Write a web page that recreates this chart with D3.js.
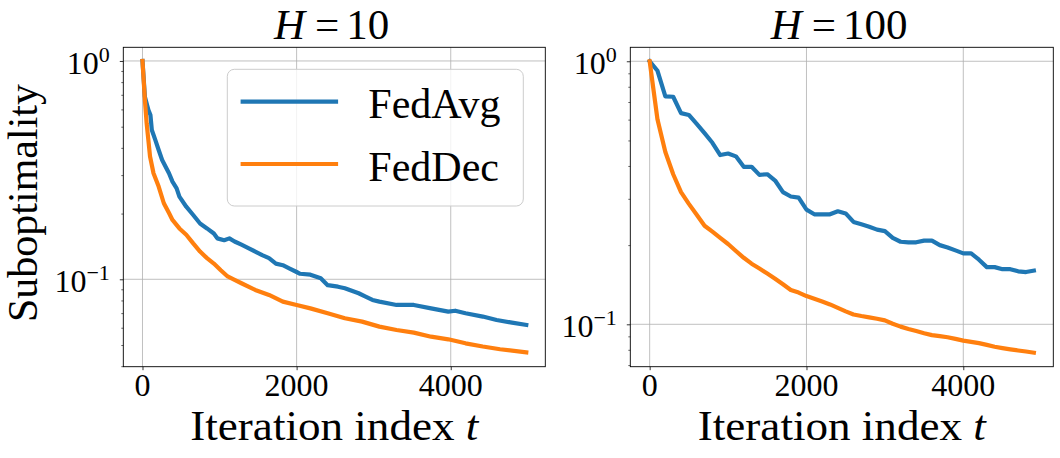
<!DOCTYPE html>
<html><head><meta charset="utf-8">
<script src="https://cdn.jsdelivr.net/npm/d3@7"></script>
<style>
body{margin:0;background:#fff}
svg{display:block;background:#fff}
text{font-family:"Liberation Serif","DejaVu Serif",serif;fill:#000}
</style>
</head><body>
<svg id="chart" width="1060" height="458"></svg>
<script>
// ---------------- data ----------------
const seriesNames = ["FedAvg", "FedDec"];
const panelH = ["10", "100"];
const xTicks = [0, 2000, 4000];
const yMajorExps = [0, -1];

// H = 10
const avg10T = [0,31,76,103,121,166,210,255,300,344,389,443,479,568,658,747,837,926,971,1060,1127,1195,1284,1374,1463,1553,1642,1731,1821,1910,2000,2045,2179,2313,2403,2537,2626,2805,2895,2984,3074,3297,3521,3745,3968,4058,4192,4416,4595,4774,4980];
const avg10V = [1.0,0.686,0.597,0.566,0.483,0.435,0.391,0.352,0.328,0.306,0.280,0.261,0.239,0.215,0.197,0.180,0.171,0.162,0.154,0.151,0.154,0.149,0.144,0.139,0.134,0.129,0.125,0.118,0.116,0.112,0.108,0.106,0.105,0.101,0.094,0.0925,0.091,0.0863,0.0833,0.0804,0.079,0.0763,0.0763,0.0736,0.0711,0.0718,0.0699,0.0675,0.0651,0.0635,0.0618];
const dec10T = [0,31,54,76,98,143,210,277,344,389,479,568,658,747,837,926,1016,1105,1195,1284,1463,1642,1821,2000,2179,2403,2626,2850,3074,3297,3521,3745,3968,4192,4416,4640,4980];
const dec10V = [1.0,0.663,0.518,0.435,0.365,0.306,0.266,0.223,0.201,0.187,0.171,0.160,0.146,0.134,0.125,0.118,0.110,0.103,0.0993,0.0959,0.0894,0.0848,0.079,0.0763,0.0736,0.0699,0.0663,0.064,0.0607,0.0586,0.057,0.0546,0.0531,0.0509,0.0492,0.0478,0.0463];

// H = 100
const t100 = [0,100,200,300,400,500,600,700,800,900,1000,1100,1200,1300,1400,1500,1600,1700,1800,1900,2000,2100,2200,2300,2400,2500,2600,2700,2800,2900,3000,3100,3200,3300,3400,3500,3600,3700,3800,3900,4000,4100,4200,4300,4400,4500,4600,4700,4800,4900];
const avg100V = [1.0,0.92,0.735,0.733,0.635,0.625,0.578,0.533,0.49,0.44,0.446,0.435,0.397,0.397,0.370,0.372,0.352,0.318,0.306,0.303,0.273,0.262,0.262,0.262,0.269,0.264,0.245,0.240,0.235,0.229,0.226,0.213,0.206,0.205,0.205,0.208,0.208,0.200,0.196,0.191,0.186,0.186,0.176,0.165,0.165,0.162,0.162,0.159,0.158,0.160];
const dec100V = [1.0,0.60,0.452,0.372,0.318,0.287,0.261,0.237,0.225,0.213,0.202,0.190,0.179,0.170,0.163,0.156,0.149,0.142,0.135,0.132,0.128,0.125,0.122,0.119,0.1155,0.112,0.109,0.1075,0.1063,0.105,0.1035,0.1005,0.098,0.096,0.0943,0.0925,0.091,0.0902,0.0893,0.088,0.0867,0.0858,0.0848,0.0835,0.0822,0.0812,0.0803,0.0795,0.0788,0.078];

const colors = ["#1f77b4", "#ff7f0e"];

// ---------------- layout ----------------
const svg = d3.select("#chart");
const panels = [
  {left:123.3, right:545.3, xDom:[-249,5227], yDom:[0.03978,1.155], title:panelH[0],
   series:[{t:avg10T, v:avg10V}, {t:dec10T, v:dec10V}], legend:true, ylabel:true},
  {left:630.3, right:1053.3, xDom:[-247,5148], yDom:[0.069,1.130], title:panelH[1],
   series:[{t:t100, v:avg100V}, {t:t100, v:dec100V}], legend:false, ylabel:false}
];
const plotTop = 47.3, plotBottom = 366.7;

panels.forEach(p => {
  const x = d3.scaleLinear().domain(p.xDom).range([p.left, p.right]);
  const y = d3.scaleLog().domain(p.yDom).range([plotBottom, plotTop]);
  const g = svg.append("g");

  // grid
  const grid = g.append("g").attr("stroke", "#b0b0b0").attr("stroke-width", 0.8);
  xTicks.forEach(t => grid.append("line").attr("x1", x(t)).attr("x2", x(t)).attr("y1", plotTop).attr("y2", plotBottom));
  yMajorExps.forEach(e => grid.append("line").attr("x1", p.left).attr("x2", p.right).attr("y1", y(Math.pow(10, e))).attr("y2", y(Math.pow(10, e))));

  // axes tick marks via d3 axes
  const xAxis = d3.axisBottom(x).tickValues(xTicks).tickSize(3.5).tickFormat("");
  const xa = g.append("g").attr("transform", `translate(0,${plotBottom})`).call(xAxis);
  xa.select(".domain").remove();
  xa.selectAll("line").attr("stroke", "#000").attr("stroke-width", 0.8);

  const yMajor = yMajorExps.map(e => Math.pow(10, e));
  const yMinor = [];
  [-2, -1, 0].forEach(k => { for (let m = 2; m <= 9; m++) { const v = m * Math.pow(10, k); if (v >= p.yDom[0] && v <= p.yDom[1]) yMinor.push(v); } });
  const ya = g.append("g").attr("transform", `translate(${p.left},0)`).call(d3.axisLeft(y).tickValues(yMajor).tickSize(3.5).tickFormat(""));
  ya.select(".domain").remove();
  ya.selectAll("line").attr("stroke", "#000").attr("stroke-width", 0.8);
  const yb = g.append("g").attr("transform", `translate(${p.left},0)`).call(d3.axisLeft(y).tickValues(yMinor).tickSize(2).tickFormat(""));
  yb.select(".domain").remove();
  yb.selectAll("line").attr("stroke", "#000").attr("stroke-width", 0.6);

  // x tick labels
  xTicks.forEach(t => g.append("text").attr("x", x(t)).attr("y", 396).attr("text-anchor", "middle").attr("font-size", 32).text(t));
  // y tick labels
  yMajorExps.forEach(e => {
    const tx = g.append("text").attr("x", p.left - 13.5).attr("y", y(Math.pow(10, e)) + 12.6).attr("text-anchor", "end");
    tx.append("tspan").attr("font-size", 32).text("10");
    tx.append("tspan").attr("font-size", 22).attr("dy", -12).text(e === 0 ? "0" : "\u2212" + (-e));
  });

  // lines
  const line = d3.line().x(d => x(d[0])).y(d => y(d[1]));
  p.series.forEach((s, i) => {
    const pts = s.t.map((t, j) => [t, s.v[j]]);
    g.append("path").datum(pts).attr("d", line).attr("fill", "none")
      .attr("stroke", colors[i]).attr("stroke-width", 4.2)
      .attr("stroke-linejoin", "round").attr("stroke-linecap", "square");
  });

  // frame
  g.append("rect").attr("x", p.left).attr("y", plotTop).attr("width", p.right - p.left).attr("height", plotBottom - plotTop)
    .attr("fill", "none").attr("stroke", "#000").attr("stroke-width", 0.9);

  // title
  const cx = (p.left + p.right) / 2;
  const tt = g.append("text").attr("x", cx - 2.6).attr("y", 39.3).attr("text-anchor", "middle").attr("font-size", 43);
  tt.append("tspan").attr("font-style", "italic").text("H");
  tt.append("tspan").attr("dx", 10).text("=");
  tt.append("tspan").attr("dx", 7).text(p.title);

  // x label
  const xl = g.append("text").attr("x", cx).attr("y", 440).attr("text-anchor", "middle").attr("font-size", 42)
    .attr("textLength", 288).attr("lengthAdjust", "spacingAndGlyphs");
  xl.append("tspan").text("Iteration index ");
  xl.append("tspan").attr("font-style", "italic").text("t");

  if (p.ylabel) {
    g.append("text").attr("transform", `translate(36.5,${(plotTop + plotBottom) / 2 - 4}) rotate(-90)`)
      .attr("text-anchor", "middle").attr("font-size", 42).text("Suboptimality");
  }

  if (p.legend) {
    const lg = g.append("g");
    lg.append("rect").attr("x", 227.3).attr("y", 69.3).attr("width", 296).attr("height", 136.7).attr("rx", 7)
      .attr("fill", "#fff").attr("fill-opacity", 0.8).attr("stroke", "#cccccc").attr("stroke-width", 1);
    const rowsY = [101.7, 164];
    seriesNames.forEach((n, i) => {
      lg.append("line").attr("x1", 242.7).attr("x2", 336).attr("y1", rowsY[i]).attr("y2", rowsY[i])
        .attr("stroke", colors[i]).attr("stroke-width", 4.2).attr("stroke-linecap", "square");
      lg.append("text").attr("x", 368.3).attr("y", rowsY[i] + 16.5).attr("font-size", 42).text(n);
    });
  }
});
</script>
</body></html>
